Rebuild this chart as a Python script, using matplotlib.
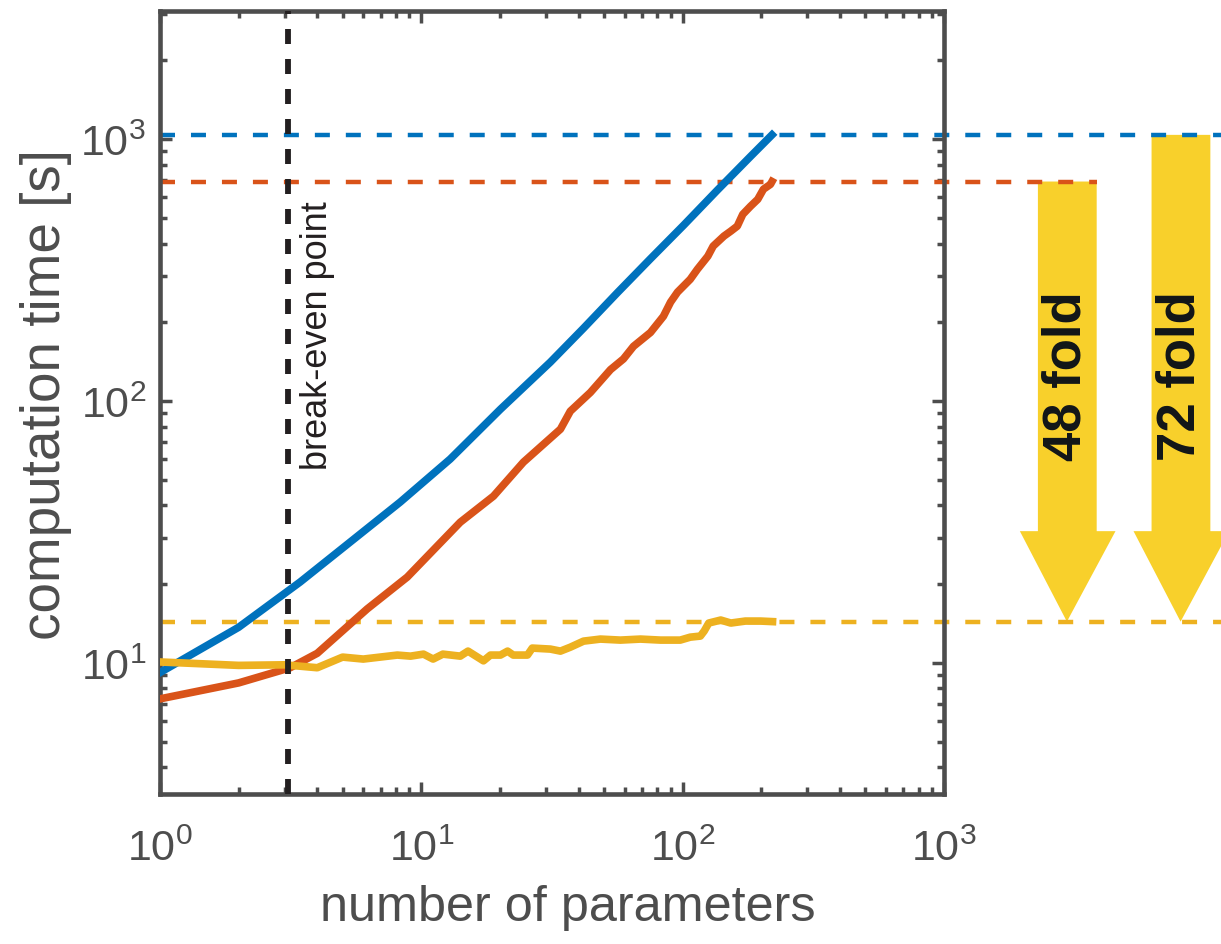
import numpy as np
import matplotlib
matplotlib.use('Agg')
import matplotlib.pyplot as plt
from matplotlib.patches import Polygon
from matplotlib.transforms import blended_transform_factory
from matplotlib.ticker import LogLocator, NullFormatter

plt.rcParams['font.family'] = ['Liberation Sans', 'DejaVu Sans']
plt.rcParams['mathtext.fontset'] = 'custom'
plt.rcParams['mathtext.rm'] = 'Liberation Sans'
plt.rcParams['mathtext.it'] = 'Liberation Sans:italic'
plt.rcParams['mathtext.bf'] = 'Liberation Sans:bold'
plt.rcParams['lines.scale_dashes'] = False

# ---------------- data ----------------
blue_x = [1, 2, 3.44, 5.35, 8.31, 12.9, 20.1, 31.2, 41.8, 56.4, 75.4, 101, 136, 182, 220]
blue_y = [9.2, 13.7, 20.4, 29.0, 41.2, 60.1, 93.2, 141, 190, 260, 350, 470, 640, 860, 1040]

orange_x = [1, 2, 3.15, 4, 6.21, 8.84, 14.1, 18.9, 24.6, 34.1, 37.2, 44.4, 53.0, 59.4,
            64.9, 75.4, 84.5, 90, 95.7, 107, 114, 125, 131, 144, 153, 162, 170, 182, 194,
            204, 217, 220]
orange_y = [7.3, 8.4, 9.6, 10.9, 16.1, 21.3, 34.5, 43.4, 58.5, 78.2, 91.6, 108, 132, 145,
            162, 183, 211, 239, 261, 292, 319, 358, 391, 427, 446, 466, 517, 555, 590,
            645, 673, 690]

yellow_x = [1, 2, 3, 4, 5, 6, 8.1, 9.1, 10.2, 11.1, 12.1, 14.1, 15.1, 17.3, 18.4, 20.1, 21.4,
            22.5, 25.5, 26.6, 31.2, 34.1, 37.2, 41.8, 48.5, 57.8, 69, 82.4, 98, 107, 117,
            121, 126, 140, 153, 174, 199, 221]
yellow_y = [10.1, 9.8, 9.85, 9.6, 10.54, 10.36, 10.73, 10.63, 10.82, 10.36, 10.82, 10.63, 11.11,
            10.2, 10.73, 10.73, 11.11, 10.73, 10.73, 11.41, 11.31, 11.11, 11.5, 12.13, 12.35,
            12.24, 12.35, 12.24, 12.24, 12.56, 12.68, 13.25, 14.22, 14.6, 14.22, 14.47, 14.47, 14.4]

break_even_x = 3.1
fold_labels = ['48 fold', '72 fold']

# ---------------- style ----------------
c_blue = '#0072BD'
c_orange = '#D95319'
c_yellow = '#EDB120'
c_arrow = '#F8D02B'
c_axis = '#4D4D4D'
c_black = '#231F20'

fig = plt.figure(figsize=(12.21, 9.45), dpi=100)
ax = fig.add_axes([0.131, 0.1587, 0.642, 0.8286])
ax.set_xscale('log')
ax.set_yscale('log')
ax.set_xlim(1, 1000)
ax.set_ylim(10 ** 0.5, 10 ** 3.49)

y_blue_end = blue_y[-1]
y_orange_end = orange_y[-1]
y_yellow_end = yellow_y[-1]

tr = blended_transform_factory(ax.transAxes, ax.transData)
dash = (0, (10.8, 11.5))
ax.plot([0, 1.353], [y_blue_end] * 2, color=c_blue, lw=3.2, linestyle=dash,
        transform=tr, clip_on=False, zorder=2)
ax.plot([0, 1.195], [y_orange_end] * 2, color=c_orange, lw=3.2, linestyle=dash,
        transform=tr, clip_on=False, zorder=2)
ax.plot([0, 1.353], [y_yellow_end] * 2, color=c_yellow, lw=3.2, linestyle=dash,
        transform=tr, clip_on=False, zorder=2)

ax.plot(blue_x, blue_y, color=c_blue, lw=5.5, zorder=3, solid_joinstyle='round')
ax.plot(orange_x, orange_y, color=c_orange, lw=5.5, zorder=3, solid_joinstyle='round')
ax.plot(yellow_x, yellow_y, color=c_yellow, lw=5.5, zorder=3, solid_joinstyle='round')

ax.axvline(break_even_x, color=c_black, lw=4.2, linestyle=(0, (10.8, 10.8)), zorder=4)
ax.text(4.0, 55, 'break-even point', rotation=90, ha='center', va='bottom',
        fontsize=26, color=c_black, zorder=5)

# arrows (outside axes)
head_start = 31.9
arrow_geo = [  # shaft left, shaft right, head left, head right, tip x (axes fraction)
    (1.120, 1.195, 1.097, 1.219, 1.157),
    (1.265, 1.340, 1.242, 1.364, 1.302),
]
arrow_tops = [y_orange_end, y_blue_end]
for (sl, sr, hl, hr, tx), top, lab in zip(arrow_geo, arrow_tops, fold_labels):
    verts = [(sl, top), (sr, top), (sr, head_start), (hr, head_start),
             (tx, y_yellow_end), (hl, head_start), (sl, head_start)]
    poly = Polygon(verts, closed=True, facecolor=c_arrow, edgecolor='none',
                   transform=tr, clip_on=False, zorder=1)
    ax.add_patch(poly)
    ax.text(tx, 125.6, lab, rotation=90, ha='center', va='center', fontsize=38,
            fontweight='bold', color='#111518', transform=tr, clip_on=False, zorder=6)

# axes styling
for s in ax.spines.values():
    s.set_linewidth(3.3)
    s.set_color(c_axis)
ax.xaxis.set_major_locator(LogLocator(base=10, numticks=10))
ax.yaxis.set_major_locator(LogLocator(base=10, numticks=10))
ax.xaxis.set_minor_locator(LogLocator(base=10, subs=np.arange(2, 10), numticks=20))
ax.yaxis.set_minor_locator(LogLocator(base=10, subs=np.arange(2, 10), numticks=20))
ax.xaxis.set_minor_formatter(NullFormatter())
ax.yaxis.set_minor_formatter(NullFormatter())
ax.tick_params(which='both', direction='in', top=True, right=True, color=c_axis,
               labelcolor=c_axis, labelsize=31)
ax.tick_params(which='major', length=8.6, width=2.5)
ax.tick_params(which='minor', length=5, width=2.5)
ax.tick_params(axis='x', which='major', pad=25)
ax.tick_params(axis='y', which='major', pad=10)

ax.set_xlabel('number of parameters', fontsize=36.3, color=c_axis)
ax.set_ylabel('computation time [s]', fontsize=39.5, color=c_axis)
ax.xaxis.set_label_coords(0.52, -0.115)
ax.yaxis.set_label_coords(-0.112, 0.512)

fig.savefig('out.png', dpi=100)
